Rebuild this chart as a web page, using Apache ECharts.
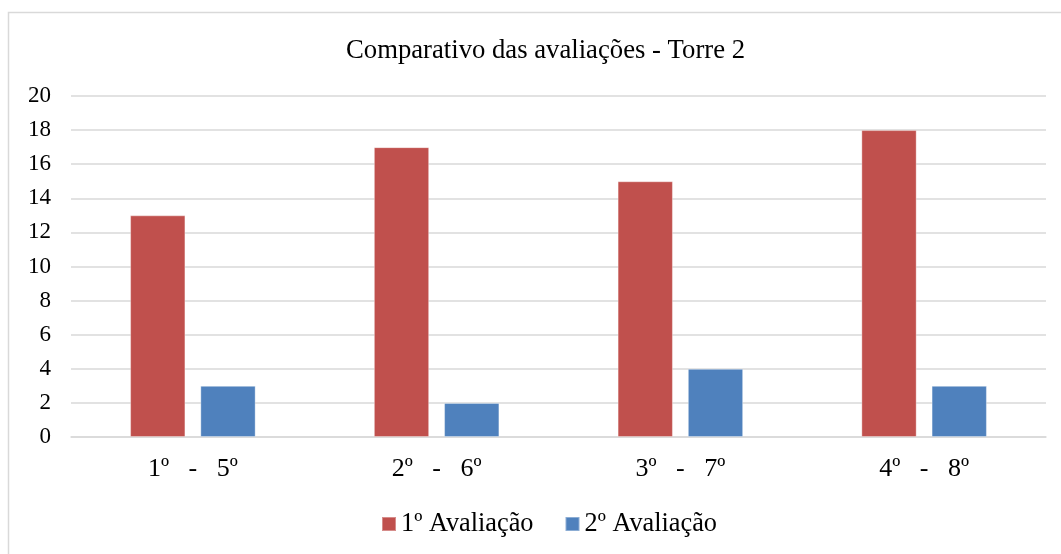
<!DOCTYPE html>
<html>
<head>
<meta charset="utf-8">
<script src="https://cdn.jsdelivr.net/npm/echarts@6/dist/echarts.min.js"></script>
<style>
  html, body { margin: 0; padding: 0; background: #fff; }
  #chart { width: 1061px; height: 554px; }
</style>
</head>
<body>
<div id="chart"></div>
<script>
// Pares de andares comparados
const categories = ['1º   -   5º', '2º   -   6º', '3º   -   7º', '4º   -   8º'];
// Valores de cada avaliação
const avaliacao1 = [13, 17, 15, 18];
const avaliacao2 = [3, 2, 4, 3];
const seriesNames = ['1º Avaliação', '2º Avaliação'];
const chartTitle = 'Comparativo das avaliações - Torre 2';

const serif = '"Liberation Serif", "Times New Roman", serif';
const chart = echarts.init(document.getElementById('chart'));

chart.setOption({
  animation: false,
  backgroundColor: '#fff',
  graphic: [{
    type: 'rect',
    shape: { x: 8.5, y: 12.5, width: 1200, height: 700 },
    style: { fill: 'none', stroke: '#d9d9d9', lineWidth: 1.5 },
    silent: true,
    z: -10
  }],
  title: {
    text: chartTitle,
    left: 341,
    top: 32,
    textStyle: { fontFamily: serif, fontSize: 26.7, fontWeight: 'normal', color: '#000' }
  },
  legend: {
    top: 506,
    left: 376,
    itemWidth: 14,
    itemHeight: 14,
    itemGap: 31,
    icon: 'rect',
    textStyle: { fontFamily: serif, fontSize: 26.3, color: '#000' },
    data: seriesNames
  },
  grid: { left: 71, right: 15, top: 96, bottom: 117, containLabel: false },
  xAxis: {
    type: 'category',
    data: categories,
    axisLine: { show: true, lineStyle: { color: '#d9d9d9', width: 1.5 } },
    axisTick: { show: false },
    axisLabel: { fontFamily: serif, fontSize: 26, color: '#000', margin: 19 }
  },
  yAxis: {
    type: 'value',
    min: 0,
    max: 20,
    interval: 2,
    axisLine: { show: false },
    axisTick: { show: false },
    axisLabel: { fontFamily: serif, fontSize: 23, color: '#000', margin: 20 },
    splitLine: { lineStyle: { color: '#d9d9d9', width: 1.5 } }
  },
  series: [
    {
      name: seriesNames[0],
      type: 'bar',
      data: avaliacao1,
      barGap: '27%',
      barCategoryGap: '48.5%',
      itemStyle: { color: '#C0504D', borderColor: 'rgba(255,255,255,0.35)', borderWidth: 1 }
    },
    {
      name: seriesNames[1],
      type: 'bar',
      data: avaliacao2,
      barGap: '27%',
      barCategoryGap: '48.5%',
      itemStyle: { color: '#4F81BD', borderColor: 'rgba(255,255,255,0.35)', borderWidth: 1 }
    }
  ]
});
</script>
</body>
</html>
